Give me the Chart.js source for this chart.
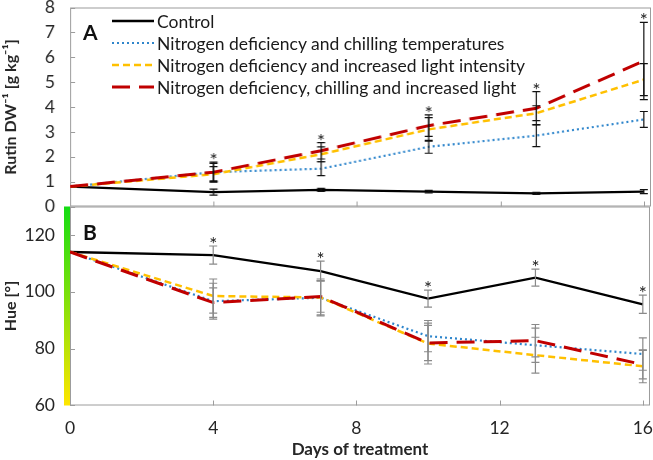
<!DOCTYPE html>
<html>
<head>
<meta charset="utf-8">
<script src="https://cdn.jsdelivr.net/npm/chart.js@4.4.0/dist/chart.umd.min.js"></script>
<style>
  body { margin: 0; background: #fff; font-family: Lato, sans-serif; }
  #wrap { position: relative; width: 653px; height: 460px; overflow: hidden; }
  .box { position: absolute; left: 0; width: 653px; }
  #legend { position: absolute; left: 112px; top: 10px; font-size: 17.5px; color: #1a1a1a; }
  .row { display: flex; align-items: center; height: 22px; white-space: nowrap; }
  .row svg { width: 42px; height: 6px; margin-right: 3px; }
  .panel { position: absolute; left: 83px; font-weight: bold; font-size: 21px; color: #111; }
</style>
</head>
<body>
<div id="wrap">
  <div class="box" id="topBox" style="top:0;height:219px"><canvas id="rutinChart"></canvas></div>
  <div class="box" id="botBox" style="top:196px;height:264px"><canvas id="hueChart"></canvas></div>
  <div class="panel" style="top:19px">A</div>
  <div class="panel" style="top:219px">B</div>
  <div id="legend"></div>
</div>
<script>
const days = [0, 4, 7, 10, 13, 16];
const seriesNames = [
  'Control',
  'Nitrogen deficiency and chilling temperatures',
  'Nitrogen deficiency and increased light intensity',
  'Nitrogen deficiency, chilling and increased light'
];

// panel A, rutin [g/kg DW]
const rutinControl = [0.8, 0.58, 0.67, 0.6, 0.53, 0.6];
const rutinChill   = [0.8, 1.38, 1.52, 2.4, 2.85, 3.5];
const rutinLight   = [0.8, 1.3, 2.1, 3.1, 3.75, 5.1];
const rutinBoth    = [0.8, 1.38, 2.24, 3.25, 3.95, 5.85];
const rutinControlErr = [0, 0.12, 0.06, 0.05, 0.04, 0.08];
const rutinChillErr   = [0, 0.4, 0.28, 0.26, 0.44, 0.32];
const rutinLightErr   = [0, 0.3, 0.3, 0.47, 0.3, 0.64];
const rutinBothErr    = [0, 0.35, 0.33, 0.43, 0.67, 1.55];

// panel B, hue [deg]
const hueControl = [114, 112.9, 107.3, 97.6, 105, 95.6];
const hueChill   = [114, 96.7, 97.9, 84.4, 81.2, 78.1];
const hueLight   = [114, 98.5, 98, 81.8, 77.7, 73.8];
const hueBoth    = [114, 96.2, 98.3, 82, 82.8, 74.4];
const hueControlErr = [0, 3.2, 3.5, 3, 3, 3.2];
const hueChillErr   = [0, 6.3, 6, 5.5, 6, 5.7];
const hueLightErr   = [0, 6, 6.5, 7.2, 6.3, 5.8];
const hueBothErr    = [0, 5.2, 5.5, 6.2, 5.7, 5];

const signif = [false, true, true, true, true, true];
const dayTicks = [0, 4, 8, 12, 16];
const rutinTicks = [0, 1, 2, 3, 4, 5, 6, 7, 8];
const hueTicks = [60, 80, 100, 120];

const lineStyles = [
  { color: '#000000', width: 2.3, dash: [] },
  { color: '#2f86cc', width: 2.2, dash: [2, 3] },
  { color: '#ffc000', width: 2.5, dash: [7, 4] },
  { color: '#c00000', width: 3, dash: [18, 9] }
];
const drawOrder = [4, 3, 2, 1];

function makeDatasets(vals, errs) {
  return vals.map((v, k) => ({
    label: seriesNames[k],
    data: days.map((d, i) => ({ x: d, y: v[i] })),
    errors: errs[k],
    borderColor: lineStyles[k].color,
    borderWidth: lineStyles[k].width,
    borderDash: lineStyles[k].dash,
    pointRadius: 0,
    tension: 0,
    fill: false,
    order: drawOrder[k]
  }));
}

const framePlugin = {
  id: 'frame',
  beforeDatasetsDraw(chart) {
    const { ctx, chartArea: a, scales: { x, y } } = chart;
    ctx.save();
    ctx.strokeStyle = '#9c9c9c';
    ctx.lineWidth = 1;
    ctx.strokeRect(a.left + 0.5, a.top + 0.5, a.right - a.left - 1, a.bottom - a.top - 1);
    ctx.beginPath();
    x.ticks.forEach(t => {
      const px = Math.round(x.getPixelForValue(t.value)) + 0.5;
      ctx.moveTo(px, a.bottom);
      ctx.lineTo(px, a.bottom - 5);
    });
    y.ticks.forEach(t => {
      const py = Math.round(y.getPixelForValue(t.value)) + 0.5;
      ctx.moveTo(a.left, py);
      ctx.lineTo(a.left + 5, py);
    });
    ctx.stroke();
    ctx.restore();
  }
};

const errorBarPlugin = {
  id: 'errorBars',
  afterDatasetsDraw(chart, args, opts) {
    const { ctx, scales: { x, y } } = chart;
    ctx.save();
    ctx.strokeStyle = opts.color;
    ctx.lineWidth = 1.2;
    chart.data.datasets.forEach(ds => {
      ds.data.forEach((p, i) => {
        const e = ds.errors[i];
        if (!e) return;
        const px = x.getPixelForValue(p.x);
        const top = y.getPixelForValue(p.y + e);
        const bot = y.getPixelForValue(p.y - e);
        ctx.beginPath();
        ctx.moveTo(px, top); ctx.lineTo(px, bot);
        ctx.moveTo(px - 4, top); ctx.lineTo(px + 4, top);
        ctx.moveTo(px - 4, bot); ctx.lineTo(px + 4, bot);
        ctx.stroke();
      });
    });
    // significance stars above the highest bar
    ctx.fillStyle = '#222';
    ctx.font = '19px Lato';
    ctx.textAlign = 'center';
    ctx.textBaseline = 'alphabetic';
    days.forEach((d, i) => {
      if (!signif[i]) return;
      const hi = Math.max(...chart.data.datasets.map(ds => ds.data[i].y + ds.errors[i]));
      ctx.fillText('*', x.getPixelForValue(d), y.getPixelForValue(hi) + 5);
    });
    ctx.restore();
  }
};

const hueBarPlugin = {
  id: 'hueBar',
  afterDraw(chart) {
    const { ctx, chartArea: a } = chart;
    const g = ctx.createLinearGradient(0, a.top, 0, a.bottom);
    g.addColorStop(0, '#14dc14');
    g.addColorStop(1, '#ffe600');
    ctx.save();
    ctx.fillStyle = g;
    ctx.fillRect(a.left - 6, a.top, 6, a.bottom - a.top);
    ctx.restore();
  }
};

const tickFont = { family: 'Lato', size: 17.5 };
const titleFont = { family: 'Lato', size: 16, weight: 'bold' };

function xScale(show) {
  return {
    type: 'linear',
    min: 0,
    max: 16.2,
    display: show,
    afterBuildTicks: s => { s.ticks = dayTicks.map(v => ({ value: v })); },
    // tick marks are drawn by the frame plugin; tickLength only sets label spacing
    grid: { display: false, drawTicks: true, tickLength: 12 },
    border: { display: false },
    ticks: { font: tickFont, color: '#262626', padding: 0, maxRotation: 0 },
    title: { display: show, text: 'Days of treatment', font: { family: 'Lato', size: 17, weight: 'bold' },
             color: '#262626', padding: { top: 1, bottom: 3 } }
  };
}

function yScale(min, max, tickVals, title) {
  return {
    min: min,
    max: max,
    afterBuildTicks: s => { s.ticks = tickVals.map(v => ({ value: v })); },
    afterFit: s => { s.width = 70; },
    grid: { display: false, drawTicks: true, tickLength: 15 },
    border: { display: false },
    ticks: { font: tickFont, color: '#262626', padding: 0 },
    title: { display: true, text: title, font: titleFont, color: '#262626', padding: { top: 1, bottom: 0 } }
  };
}

function baseOptions(xs, ys, barColor) {
  return {
    responsive: true,
    maintainAspectRatio: false,
    animation: false,
    layout: { padding: 0 },
    plugins: {
      legend: { display: false },
      tooltip: { enabled: false },
      errorBars: { color: barColor }
    },
    scales: { x: xs, y: ys }
  };
}

// move/resize a chart's box so its plot area lands on the given page rectangle
function placeChart(chart, box, left, top, right, bottom) {
  for (let pass = 0; pass < 2; pass++) {
    const a = chart.chartArea;
    const padL = a.left, padT = a.top, padR = chart.width - a.right, padB = chart.height - a.bottom;
    box.style.left = (left - padL) + 'px';
    box.style.top = (top - padT) + 'px';
    box.style.width = (right - left + padL + padR) + 'px';
    box.style.height = (bottom - top + padT + padB) + 'px';
    chart.resize();
  }
}

const rutinChart = new Chart(document.getElementById('rutinChart'), {
  type: 'line',
  data: { datasets: makeDatasets([rutinControl, rutinChill, rutinLight, rutinBoth],
                                 [rutinControlErr, rutinChillErr, rutinLightErr, rutinBothErr]) },
  options: baseOptions(xScale(false), yScale(0, 8, rutinTicks, 'Rutin DW⁻¹ [g kg⁻¹]'), '#111'),
  plugins: [framePlugin, errorBarPlugin]
});

const hueChart = new Chart(document.getElementById('hueChart'), {
  type: 'line',
  data: { datasets: makeDatasets([hueControl, hueChill, hueLight, hueBoth],
                                 [hueControlErr, hueChillErr, hueLightErr, hueBothErr]) },
  options: baseOptions(xScale(true), yScale(60, 130, hueTicks, 'Hue [°]'), '#8a8a8a'),
  plugins: [framePlugin, errorBarPlugin, hueBarPlugin]
});

placeChart(rutinChart, document.getElementById('topBox'), 70, 7, 650, 206);
placeChart(hueChart, document.getElementById('botBox'), 70, 206, 650, 405);

// legend in panel A
const legend = document.getElementById('legend');
seriesNames.forEach((name, k) => {
  const st = lineStyles[k];
  const row = document.createElement('div');
  row.className = 'row';
  row.innerHTML = '<svg viewBox="0 0 42 6"><line x1="0" y1="3" x2="42" y2="3" stroke="' + st.color +
    '" stroke-width="' + st.width + '" stroke-dasharray="' + (st.dash.join(' ') || 'none') + '"/></svg>' +
    '<span>' + name + '</span>';
  legend.appendChild(row);
});
</script>
</body>
</html>
